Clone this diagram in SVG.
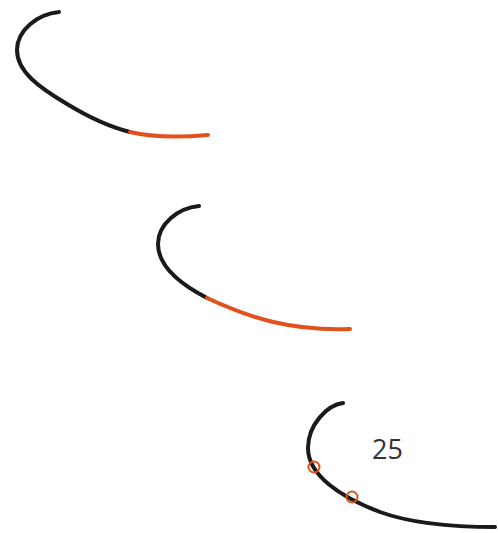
<svg xmlns="http://www.w3.org/2000/svg" width="498" height="533" viewBox="0 0 498 533">
<style>
.k{fill:none;stroke:#1a1a1a;stroke-width:4;stroke-linecap:round}
.o{fill:none;stroke:#e2501c;stroke-width:4;stroke-linecap:round}
.c{fill:none;stroke:#e2501c;stroke-width:2}
.t{font-family:"Open Sans","Liberation Sans",sans-serif;font-size:27px;fill:#333}
</style>
<rect width="498" height="533" fill="#fff"/>
<g id="curve1">
<path class="k" d="M59,12 C38,14 17,30 17,50 C17,72 40,88 67,104 C90,118 110,127 130,132"/>
<path class="o" d="M130,132 C155,138 185,137 208,135"/>
</g>
<g id="curve2" transform="translate(140,194)">
<path class="k" d="M59,12 C38,14 18,30 18,50 C18,72 40,90 67,104"/>
<path class="o" d="M67,104 C110,124 150,137 210,135"/>
</g>
<g id="curve3">
<path class="k" d="M343,403 C327,405 308,425 308,448 C308,475 340,497 380,512 C410,523 450,527 495,527"/>
<circle class="c" cx="314" cy="467" r="5.5"/>
<circle class="c" cx="352" cy="497" r="5.5"/>
<text class="t" x="372" y="459">25</text>
</g>
</svg>
